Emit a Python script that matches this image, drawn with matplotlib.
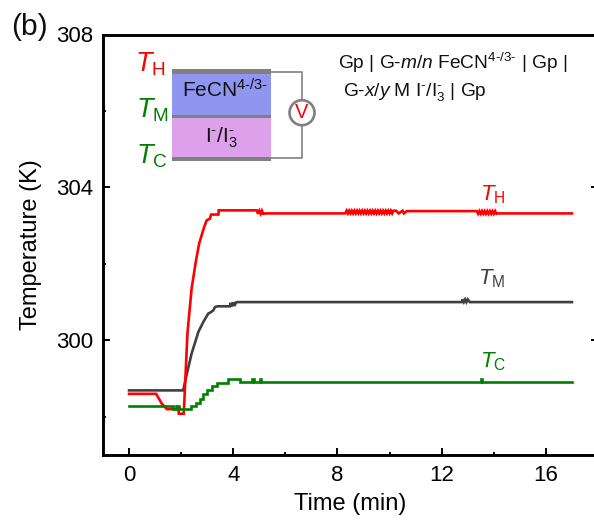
import matplotlib
matplotlib.use("Agg")
import matplotlib.pyplot as plt
from matplotlib.patches import Rectangle, Circle

plt.rcParams["font.family"] = ["Liberation Sans", "DejaVu Sans"]
plt.rcParams["mathtext.fontset"] = "custom"
plt.rcParams["mathtext.rm"] = "Liberation Sans"
plt.rcParams["mathtext.it"] = "Liberation Sans:italic"
plt.rcParams["mathtext.bf"] = "Liberation Sans:bold"
plt.rcParams["mathtext.default"] = "regular"

# values
t_h = [0, 1.04, 1.26, 1.45, 1.9, 1.91, 2.1, 2.24, 2.40, 2.57, 2.69, 2.88, 2.98, 3.1, 3.15, 3.43, 3.44, 3.55, 3.56,
       4.9, 4.95, 5.0, 5.05, 5.1, 5.15, 5.25,
       8.3, 8.35, 8.4, 8.45, 8.5, 8.55, 8.6, 8.65, 8.7, 8.75, 8.8, 8.85, 8.9, 8.95, 9.0, 9.05, 9.1, 9.15,
       9.2, 9.25, 9.3, 9.35, 9.4, 9.45, 9.5, 9.55, 9.6, 9.65, 9.7, 9.75, 9.8, 9.85, 9.9, 9.95, 10.0, 10.05,
       10.1, 10.15, 10.25, 10.35, 10.5, 10.55, 10.66,
       13.35, 13.4, 13.45, 13.5, 13.55, 13.6, 13.65, 13.7, 13.75, 13.8, 13.85, 13.9, 13.95, 14.0, 14.05,
       14.1, 14.16, 17.0]
temp_h = [298.6, 298.6, 298.34, 298.2, 298.2, 298.08, 298.08, 300.17, 301.35, 302.09, 302.53, 302.96, 303.14,
          303.18, 303.29, 303.29, 303.4, 303.4, 303.4,
          303.4, 303.31, 303.39, 303.31, 303.39, 303.31, 303.32,
          303.32, 303.39, 303.32, 303.39, 303.32, 303.39, 303.32, 303.39, 303.32, 303.39, 303.32, 303.39,
          303.32, 303.39, 303.32, 303.39, 303.32, 303.39, 303.32, 303.39, 303.32, 303.39, 303.32, 303.39,
          303.32, 303.39, 303.32, 303.39, 303.32, 303.39, 303.32, 303.39, 303.32, 303.39, 303.32, 303.39,
          303.32, 303.39, 303.39, 303.32, 303.39, 303.32, 303.38,
          303.38, 303.31, 303.38, 303.31, 303.38, 303.31, 303.38, 303.31, 303.38, 303.31, 303.38, 303.31,
          303.38, 303.31, 303.38, 303.31, 303.32, 303.32]

t_m = [0, 2.08, 2.19, 2.40, 2.66, 2.85, 3.04, 3.1, 3.23, 3.3, 3.39, 3.87, 3.9, 3.95, 4.0, 4.05, 4.1, 4.15,
       12.77, 12.8, 12.85, 12.9, 12.95, 13.0, 13.08, 17.0]
temp_m = [298.69, 298.69, 299.04, 299.65, 300.22, 300.48, 300.7, 300.72, 300.78, 300.87, 300.89, 300.89,
          300.98, 300.89, 300.99, 300.9, 300.99, 301.0,
          301.0, 301.07, 301.0, 301.07, 301.0, 301.07, 301.0, 301.0]

# green runs in plain steps
t_c = [0, 1.7, 1.8, 1.9, 2.38, 2.57, 2.72, 2.85, 3.0, 3.17, 3.36, 3.81, 4.26,
       4.72, 4.78, 5.02, 5.08, 13.5, 13.56, 17.0]
temp_c = [298.29, 298.2, 298.29, 298.2, 298.27, 298.36, 298.47, 298.59, 298.69, 298.8, 298.88, 299.0, 298.91,
          299.0, 298.91, 299.0, 298.91, 298.98, 298.91, 298.91]

x_ticks = [0, 4, 8, 12, 16]
x_minor = [2, 6, 10, 14, 18]
y_ticks = [300, 304, 308]
y_minor = [298, 302, 306]

RED = "#ff0000"
GREEN = "#008000"
DARK = "#404040"

fig = plt.figure(figsize=(5.94, 5.23), dpi=100)
ax = fig.add_axes([103 / 594, 1 - 455 / 523, 495 / 594, 420.5 / 523])

ax.plot(t_m, temp_m, color=DARK, lw=1.9, solid_joinstyle="miter")
ax.plot(t_h, temp_h, color=RED, lw=1.9, solid_joinstyle="miter")
ax.plot(t_c, temp_c, color=GREEN, lw=1.9, drawstyle="steps-post", solid_joinstyle="miter")

ax.set_xlim(-1, 18)
ax.set_ylim(297, 308)
ax.set_xticks(x_ticks)
ax.set_xticks(x_minor, minor=True)
ax.set_yticks(y_ticks)
ax.set_yticks(y_minor, minor=True)
ax.tick_params(which="major", direction="in", length=5.2, width=1.4, labelsize=16, right=True, pad=7)
ax.tick_params(which="minor", direction="in", length=2.4, width=1.4, right=True)
for s in ax.spines.values():
    s.set_linewidth(2.1)
ax.set_xlabel("Time (min)", fontsize=17, labelpad=5)
ax.set_ylabel("Temperature (K)", fontsize=17, labelpad=10)

# overlay in pixel units for the sketch and the labels
ov = fig.add_axes([0, 0, 1, 1], facecolor="none")
ov.set_xlim(0, 594)
ov.set_ylim(523, 0)
ov.axis("off")

ov.plot([271, 302, 302, 271], [71.7, 71.7, 158.3, 158.3], color="#808080", lw=1.2, zorder=1)
layers = [(73.7, 41.3, "#8f96f0"), (117.7, 39.3, "#dda0ea"),
          (69.3, 4.4, "#808080"), (115, 2.7, "#808080"), (157, 3.7, "#808080")]
for y0, h, c in layers:
    ov.add_patch(Rectangle((171.7, y0), 99.3, h, facecolor=c, edgecolor="none", zorder=2))
ov.add_patch(Circle((302, 112.7), 12.5, facecolor="white", edgecolor="#808080", lw=1.9, zorder=3))
ov.text(302, 113, "V", color=RED, fontsize=14.5, ha="center", va="center", zorder=4)

ov.text(182, 98, "FeCN$^{4\\text{-}/3\\text{-}}$", fontsize=15, color="#101010", zorder=4)
ov.text(205, 142, "I$^{\\text{-}}$/I$_{3}^{\\text{-}}$", fontsize=15, color="#101010", zorder=4)

ov.text(135, 71.7, "$\\mathit{T}_{H}$", fontsize=19.5, color=RED)
ov.text(136, 117, "$\\mathit{T}_{M}$", fontsize=19.5, color=GREEN)
ov.text(136, 163, "$\\mathit{T}_{C}$", fontsize=19.5, color=GREEN)

ov.text(480, 200.7, "$\\mathit{T}_{H}$", fontsize=16, color=RED)
ov.text(478, 284, "$\\mathit{T}_{M}$", fontsize=16, color=DARK)
ov.text(480, 367.6, "$\\mathit{T}_{C}$", fontsize=16, color=GREEN)

ov.text(338, 69, "Gp | G-$\\mathit{m/n}$ FeCN$^{4\\text{-}/3\\text{-}}$ | Gp |", fontsize=13.8, color="#101010")
ov.text(343, 96, "G-$\\mathit{x/y}$ M I$^{\\text{-}}$/I$_{3}^{\\text{-}}$ | Gp", fontsize=13.8, color="#101010")
ov.text(11, 35, "(b)", fontsize=21.5, color="#101010")

fig.savefig("out.png", dpi=100)
